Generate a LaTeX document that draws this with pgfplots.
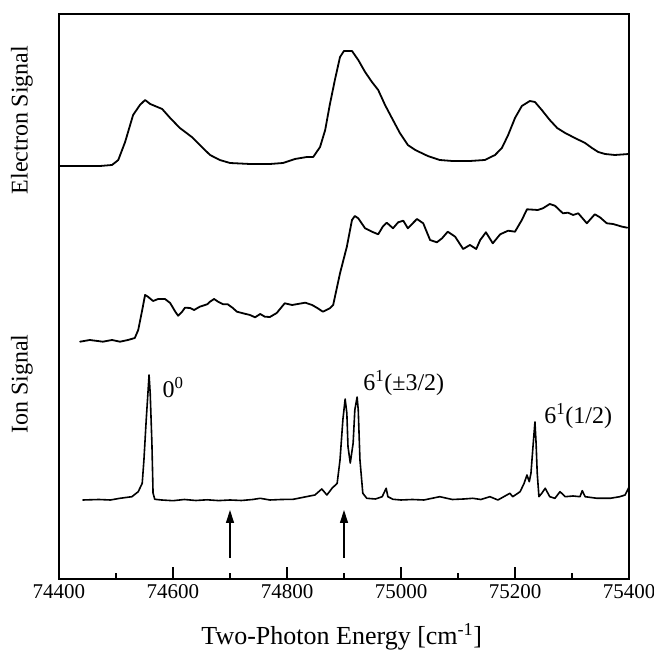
\documentclass[border=0pt]{standalone}
\usepackage{fontspec}
\setmainfont{Liberation Serif}
\usepackage{pgfplots}
\pgfplotsset{compat=1.18}
\usetikzlibrary{calc,arrows.meta}

\begin{document}
\begin{tikzpicture}
\begin{axis}[
  scale only axis, width=570pt, height=565pt,
  xmin=74400, xmax=75400, ymin=0, ymax=565,
  xtick={74400,74600,...,75400}, minor xtick={74500,74700,...,75300},
  scaled x ticks=false,
  xtick pos=bottom, ytick=\empty, tick align=inside,
  major tick length=12pt, minor tick length=6pt,
  every tick/.style={line width=1.4pt, black},
  /pgf/number format/assume math mode=true,
  /pgf/number format/1000 sep={},
  xticklabel style={font=\fontsize{21}{23}\selectfont, yshift=-2pt},
  axis line style={line width=2.2pt},
  every axis plot/.append style={line join=round, line cap=round},
  clip=false,
]
% electron signal
\addplot[line width=1.8pt, black] coordinates {
(74400,413) (74472,413) (74493,414) (74504,419) (74516,437) (74530,464)
(74542,474) (74551,479) (74560,475) (74581,470) (74595,461) (74612,451)
(74633,442) (74647,434) (74665,424) (74682,419) (74700,416) (74735,415)
(74770,415) (74793,416) (74814,420) (74835,422) (74846,422) (74858,432)
(74867,449) (74875,474) (74884,499) (74893,522) (74900,528) (74914,528)
(74925,519) (74937,507) (74949,497) (74960,489) (74972,474) (74984,461)
(74998,446) (75012,434) (75025,429) (75047,423) (75068,419) (75090,418)
(75121,418) (75147,419) (75165,424) (75177,431) (75188,444) (75200,461)
(75212,473) (75226,478) (75235,477) (75247,469) (75261,459) (75274,451)
(75288,446) (75305,441) (75323,436) (75335,431) (75346,427) (75358,425)
(75375,424) (75400,425)
};
% ion signal, broad
\addplot[line width=1.8pt, black] coordinates {
(74437,237.3) (74454,239) (74477,237.3) (74493,239) (74507,237.3) (74521,239)
(74533,241) (74539,249) (74546,269) (74551,284) (74556,282.3) (74565,278)
(74574,280) (74586,280) (74595,276) (74604,267.3) (74609,263.3) (74616,267.3)
(74621,271.3) (74630,271) (74637,269) (74647,272.3) (74660,274.7) (74665,277.3)
(74672,280) (74679,277.3) (74688,274.7) (74696,274.7) (74705,271) (74712,267.3)
(74723,265.7) (74735,264) (74744,261.7) (74753,265) (74761,262.3) (74770,262)
(74782,266) (74796,275.7) (74809,274) (74819,275) (74832,276.3) (74844,274)
(74854,270.7) (74863,267.3) (74875,270.7) (74881,274) (74893,305.7) (74905,332.3)
(74914,359) (74919,363) (74925,360.7) (74937,350.7) (74949,347.3) (74960,344.7)
(74968,352.3) (74975,356.3) (74986,350.7) (74995,356.7) (75004,358.3) (75012,350.7)
(75028,360) (75039,355.7) (75051,339) (75063,336.7) (75072,340.7) (75082,347.3)
(75095,342.3) (75109,330) (75121,334) (75132,330) (75139,339) (75149,346.7)
(75161,335.7) (75174,344.7) (75188,348.3) (75200,347.3) (75212,359) (75221,369.7)
(75240,369) (75249,370.7) (75261,375) (75270,373.3) (75284,365.7) (75293,366.3)
(75302,364) (75311,365.7) (75326,355.7) (75340,364.7) (75349,361.7) (75361,355.7)
(75372,355) (75388,352.3) (75397,351.3)
};
% ion signal, sharp
\addplot[line width=1.6pt, black] coordinates {
(74442,79) (74470,79.5) (74490,79) (74507,80.7) (74528,82.3) (74539,87.3)
(74546,95.7) (74549,119) (74553,159) (74556,185.7) (74558,204) (74560,185.7)
(74563,135.7) (74565,86) (74568,79.7) (74580,79) (74600,78.3) (74620,79.5)
(74640,78.5) (74660,79.2) (74680,78.4) (74700,79) (74720,78.5) (74740,79.5)
(74753,80.7) (74770,79) (74790,79.5) (74811,79.7) (74840,83) (74849,84)
(74861,90) (74870,84) (74879,90.7) (74888,95.7) (74893,119) (74898,159)
(74902,180) (74905,165.7) (74907,132.3) (74911,116) (74916,135.7) (74919,169)
(74923,182) (74925,169) (74928,119) (74933,85.7) (74940,80.7) (74955,80)
(74967,82.3) (74974,90.7) (74977,82.3) (74986,79.7) (75000,79) (75020,79.5)
(75040,79) (75068,82.3) (75090,79.5) (75110,80) (75126,80.7) (75140,79.5)
(75156,82.3) (75170,79) (75191,85.7) (75196,82.3) (75209,87.3) (75216,95.7)
(75221,104) (75225,97.3) (75228,105.7) (75232,135.7) (75235,157) (75237,135.7)
(75239,105.7) (75242,82.3) (75247,85.7) (75253,90.7) (75261,82.3) (75270,80.7)
(75279,87.3) (75288,82.3) (75302,83) (75314,82.3) (75318,88.3) (75323,82.3)
(75344,80.7) (75367,80.7) (75384,82.3) (75393,84) (75397,88.3) (75400,92)
};
\draw[line width=1.3pt, -{Triangle[length=13pt,width=8pt]}] (axis cs:74700,21) -- (axis cs:74700,69);
\draw[line width=1.3pt, -{Triangle[length=13pt,width=8pt]}] (axis cs:74900,21) -- (axis cs:74900,69);
\node[font=\fontsize{24}{26}\selectfont] at (axis cs:74600,191) {0\textsuperscript{0}};
\node[font=\fontsize{24}{26}\selectfont] at (axis cs:75005,196) {6\textsuperscript{1}(±3/2)};
\node[font=\fontsize{24}{26}\selectfont] at (axis cs:75311,163) {6\textsuperscript{1}(1/2)};
\node[rotate=90, font=\fontsize{24}{26}\selectfont] at (axis cs:74335,459) {Electron Signal};
\node[rotate=90, font=\fontsize{24}{26}\selectfont] at (axis cs:74335,195) {Ion Signal};
\node[font=\fontsize{26}{28}\selectfont] at (axis cs:74896,-58) {Two-Photon Energy [cm\textsuperscript{-1}]};
\coordinate (sw) at (rel axis cs:0,0);
\coordinate (ne) at (rel axis cs:1,1);
\end{axis}
\pgfresetboundingbox
\path[use as bounding box] ($(sw)+(-59pt,-73pt)$) rectangle ($(ne)+(25pt,14pt)$);
\end{tikzpicture}
\end{document}
